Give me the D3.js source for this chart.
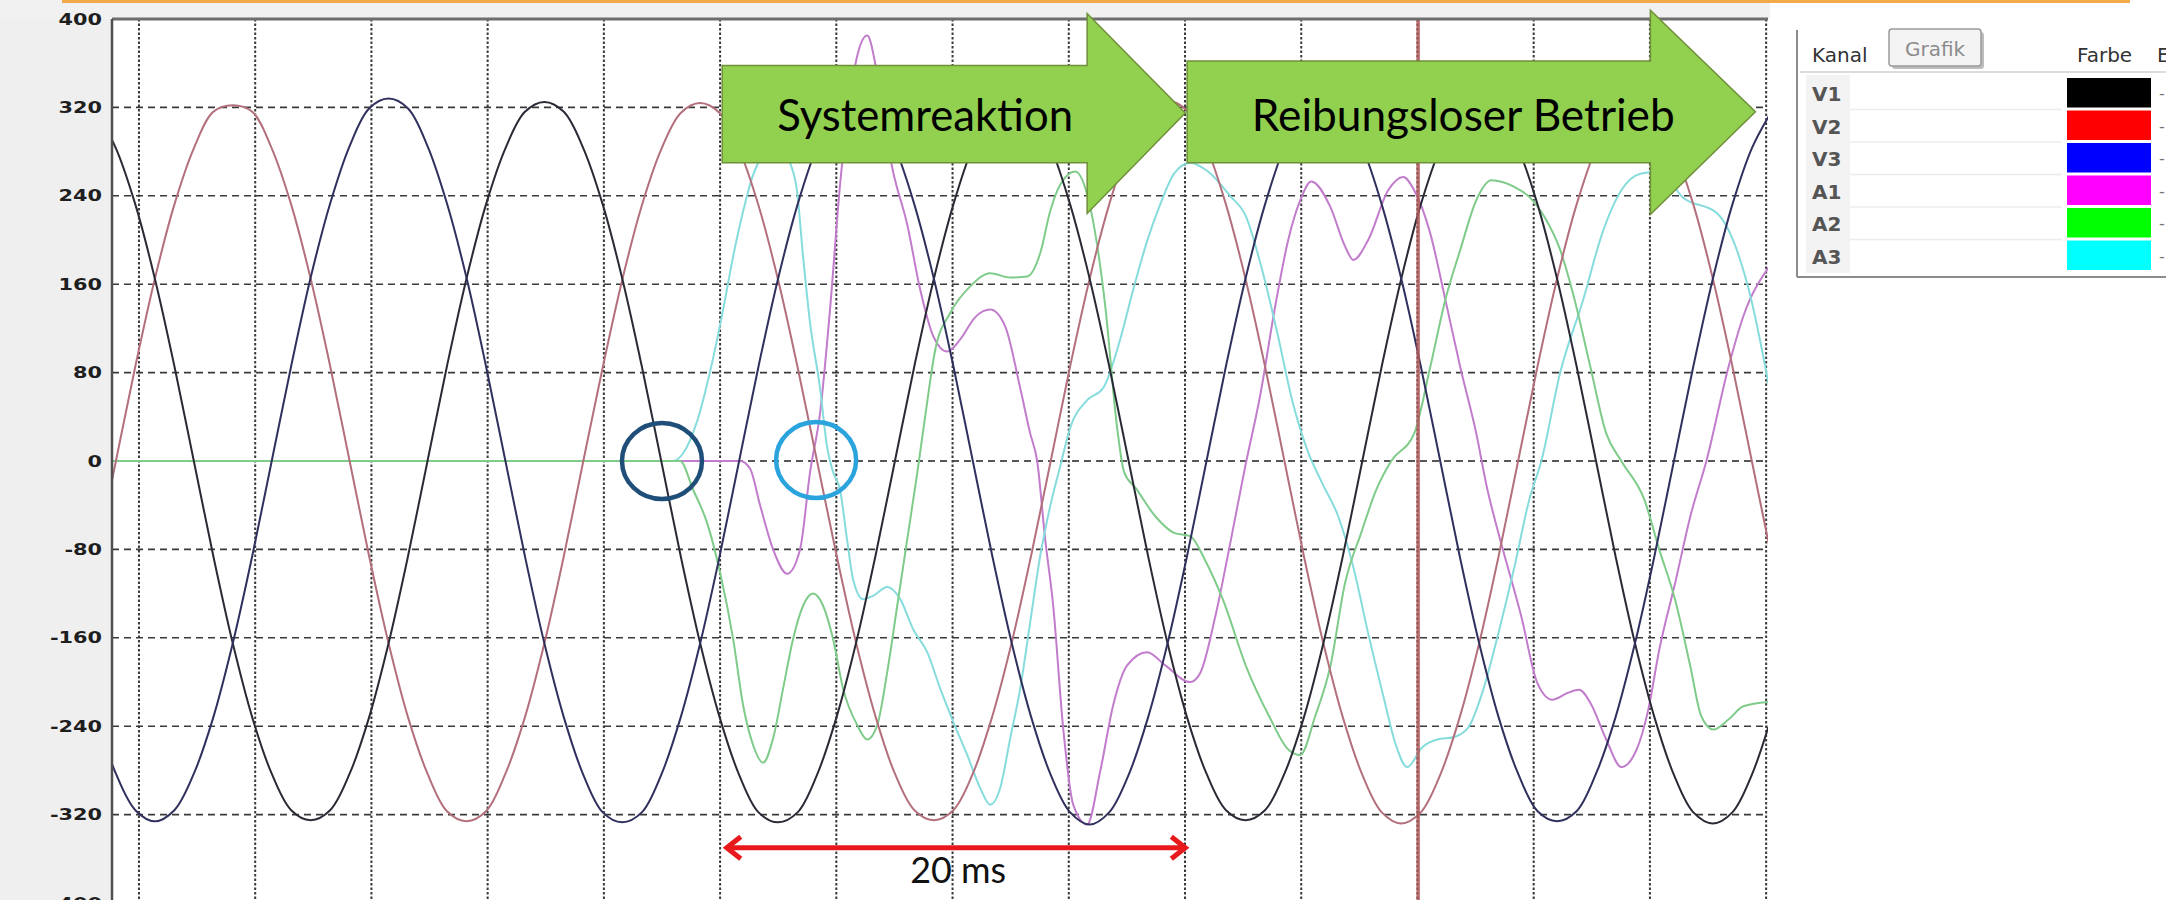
<!DOCTYPE html>
<html>
<head>
<meta charset="utf-8">
<script src="https://cdn.jsdelivr.net/npm/d3@7"></script>
<style>
  body { margin: 0; background: #fff; }
  svg { display: block; }
</style>
</head>
<body>
<svg id="chart" width="2166" height="900"></svg>
<script>
// y axis ticks (value units), vertical grid every 5 ms
const yTicks = [400, 320, 240, 160, 80, 0, -80, -160, -240, -320, -400];
const gridMs = [0, 5, 10, 15, 20, 25, 30, 35, 40, 45, 50, 55, 60, 65, 70];

// legend
const channels = ['V1', 'V2', 'V3', 'A1', 'A2', 'A3'];
const channelColors = ['#000000', '#ff0000', '#0000ff', '#ff00ff', '#00ff00', '#00ffff'];

// voltages, sampled every vStepMs starting at vStartMs
const vStartMs = -1.829;
const vStepMs = 0.8378;
const v1 = [316, 283, 232, 165, 86, 0, -86, -165, -232, -283, -316, -325, -316, -283, -232, -165, -86,
  0, 86, 165, 232, 283, 316, 325, 316, 283, 232, 165, 86, 0, -86, -165, -232, -284, -318, -327, -318, -284, -232, -165, -86,
  0, 86, 165, 232, 284, 317, 326, 317, 284, 232, 165, 86, 0, -86, -165, -232, -283, -316, -325, -316, -283, -232, -165, -86,
  0, 86, 165, 232, 283, 316, 324, 316, 283, 232, 165, 86, 0, -86, -165, -232, -284, -318, -328, -318, -284, -232];
const v2 = [-86,
  0, 86, 165, 232, 283, 316, 322, 316, 283, 232, 165, 86, 0, -86, -165, -232, -283, -317, -326, -317, -283, -232, -165, -86,
  0, 85, 164, 231, 282, 315, 324, 315, 282, 231, 164, 85, 0, -85, -164, -231, -283, -316, -325, -316, -283, -231, -164, -85,
  0, 86, 165, 232, 284, 317, 326, 317, 284, 232, 165, 86, 0, -86, -165, -232, -284, -318, -328, -318, -284, -232, -165, -86,
  0, 86, 165, 232, 283, 316, 323, 316, 283, 232, 165, 86, 0, -86];
const v3 = [-232, -283, -316, -326, -316, -283, -232, -165, -86,
  0, 86, 166, 233, 285, 319, 328, 319, 285, 233, 166, 86, 0, -86, -165, -232, -284, -318, -327, -318, -284, -232, -165, -86,
  0, 86, 165, 232, 284, 318, 326, 318, 284, 232, 165, 86, 0, -86, -165, -232, -284, -318, -329, -318, -284, -232, -165, -86,
  0, 86, 165, 232, 284, 317, 325, 317, 284, 232, 165, 86, 0, -86, -165, -232, -283, -317, -326, -317, -283, -232, -165, -86,
  0, 86, 165, 232, 283, 316];

// currents (time in ms, value)
const a1Ms = [-1.16, 25.86, 26.29, 26.72, 27.28, 27.88, 28.44, 28.87, 29.31, 29.74, 30.16, 30.59, 30.94, 31.33, 31.67, 32.01,
  32.44, 33.05, 33.61, 34.17, 34.77, 35.33, 35.97, 36.62, 37.26, 37.91, 38.34, 38.64, 38.98, 39.33, 39.76, 40.19, 40.79,
  41.35, 41.91, 42.51, 43.37, 44.15, 45.22, 45.65, 46.30, 46.94, 47.59, 48.24, 48.88, 49.44, 49.96, 50.43, 51.25, 51.89,
  52.24, 52.88, 53.74, 54.39, 54.86, 55.55, 56.20, 56.84, 57.53, 58.00, 58.48, 59.47, 60.16, 60.80, 61.45, 61.96, 62.44,
  63.12, 63.77, 64.41, 64.93, 65.40, 66.09, 66.74, 67.43, 68.38, 69.02, 70.10];
const a1 = [0, 0, -7, -40, -80, -102, -80, -10, 45, 140, 250, 330, 370, 385, 360, 310,
  262, 214, 155, 113, 99, 110, 130, 137, 122, 66, 25, 0, -70, -131, -242, -311, -329,
  -281, -221, -185, -173, -185, -200, -192, -141, -75, -5, 60, 140, 200, 236, 253, 230, 194,
  182, 200, 245, 257, 245, 206, 146, 85, 25, -25, -65, -141, -201, -216, -210, -207, -219,
  -252, -277, -262, -225, -171, -110, -50, 0, 85, 131, 175];

const a2Ms = [-1.16, 23.28, 23.84, 24.44, 25.00, 25.56, 25.99, 26.42, 26.85, 27.28, 27.71, 28.14, 28.57, 29.00, 29.43,
  29.86, 30.29, 30.90, 31.33, 31.76, 32.19, 32.62, 33.05, 33.48, 33.82, 34.25, 34.90, 35.76, 36.62, 37.48, 38.21, 38.77,
  39.20, 39.63, 40.28, 40.92, 41.57, 42.08, 42.38, 42.90, 43.72, 44.53, 45.22, 45.87, 46.64, 47.63, 48.62, 49.44, 49.96,
  50.60, 51.25, 51.89, 52.58, 53.23, 53.87, 54.86, 55.55, 56.20, 56.84, 57.53, 58.18, 59.17, 59.81, 60.46, 61.14, 61.76,
  62.44, 63.12, 63.77, 64.76, 65.40, 66.09, 66.74, 67.21, 67.73, 68.38, 69.02, 70.10];
const a2 = [0, 0, -26, -56, -101, -161, -221, -257, -273, -251, -206, -161, -131, -120, -131,
  -161, -206, -239, -252, -239, -191, -131, -71, -11, 40, 100, 134, 158, 170, 166, 167, 188,
  226, 250, 262, 230, 140, 30, -10, -25, -50, -65, -68, -90, -126, -186, -231, -261, -266,
  -231, -186, -110, -65, -26, 0, 25, 85, 146, 191, 236, 254, 248, 239, 221, 191, 146,
  85, 25, 0, -35, -80, -126, -186, -231, -243, -234, -222, -218];

const a3Ms = [-1.16, 22.98, 23.41, 24.01, 24.57, 25.13, 25.56, 25.99, 26.42, 26.94, 27.50, 28.01, 28.31, 28.57, 28.87,
  29.30, 29.60, 29.86, 30.16, 30.46, 30.72, 31.15, 31.58, 32.19, 32.75, 33.30, 33.91, 34.47, 35.03, 35.63, 36.19, 36.62,
  37.05, 37.48, 37.91, 38.34, 38.77, 39.20, 39.63, 40.06, 40.79, 41.48, 42.21, 42.77, 43.37, 43.93, 44.53, 45.22, 45.99,
  46.94, 47.63, 48.28, 48.97, 49.61, 50.26, 50.90, 51.59, 52.24, 52.88, 53.57, 54.04, 54.56, 55.21, 55.85, 56.54, 57.19,
  57.83, 58.48, 59.17, 59.81, 60.33, 61.14, 62.13, 62.95, 63.77, 64.59, 65.45, 66.39, 67.90, 69.36, 70.10];
const a3 = [0, 0, 7, 36, 81, 137, 185, 226, 259, 280, 288, 270, 244, 185, 125,
  66, 13, -10, -26, -71, -107, -125, -122, -114, -125, -152, -173, -206, -236, -266, -296, -311,
  -296, -251, -206, -146, -86, -41, -5, 30, 55, 66, 110, 155, 199, 232, 260, 270, 262,
  240, 221, 176, 116, 55, 10, -20, -50, -96, -156, -216, -255, -277, -259, -252, -250, -241,
  -207, -156, -96, -35, 0, 80, 146, 206, 245, 260, 262, 239, 224, 146, 70];

// annotations (ms / value units)
const cursorMs = 55.03;
const spanMs = [25.2, 45.1];
const spanValue = -350;
const spanLabel = '20 ms';
const spanLabelAt = [35.24, -382];
const marks = [
  { ms: 22.5, value: 0, color: '#1f4e79' },
  { ms: 29.13, value: 1, color: '#2ba4dd' }
];
const phases = [
  { label: 'Systemreaktion', from: 25.09, to: 40.79, tip: 45.01, shaft: [358, 270], head: [405, 224], tipValue: 315, text: [33.82, 299], textWidth: 296 },
  { label: 'Reibungsloser Betrieb', from: 45.09, to: 65.02, tip: 69.54, shaft: [362, 270], head: [408, 223], tipValue: 316, text: [56.97, 299], textWidth: 423 }
];

const svg = d3.select('#chart');
const plot = { left: 112, right: 1768, top: 19, bottom: 903 };

const x = d3.scaleLinear().domain([-1.16, 70.08]).range([plot.left, plot.right]);
const y = d3.scaleLinear().domain([-400, 400]).range([plot.bottom, plot.top]);

// page background
svg.append('rect').attr('width', 2166).attr('height', 900).attr('fill', '#fff');
svg.append('rect').attr('x', 0).attr('y', 0).attr('width', plot.left).attr('height', 900).attr('fill', '#efefef');
svg.append('rect').attr('x', 0).attr('y', 0).attr('width', plot.right + 2).attr('height', plot.top).attr('fill', '#f1f1f1');
svg.append('line').attr('x1', 62).attr('x2', 2130).attr('y1', 1.5).attr('y2', 1.5)
  .attr('stroke', '#f2aa4c').attr('stroke-width', 3);

svg.append('defs').append('clipPath').attr('id', 'plotClip')
  .append('rect').attr('x', plot.left).attr('y', plot.top).attr('width', plot.right - plot.left).attr('height', plot.bottom - plot.top);

// grid
const grid = svg.append('g');
grid.selectAll('line.h').data(yTicks.filter(d => Math.abs(d) < 400)).enter().append('line')
  .attr('x1', plot.left).attr('x2', plot.right)
  .attr('y1', d => y(d)).attr('y2', d => y(d))
  .attr('stroke', d => d === 0 ? '#202020' : '#3a3a3a').attr('stroke-width', 1.6)
  .attr('stroke-dasharray', '7 5');
grid.selectAll('line.v').data(gridMs).enter().append('line')
  .attr('x1', d => x(d)).attr('x2', d => x(d))
  .attr('y1', plot.top).attr('y2', 900)
  .attr('stroke', '#3a3a3a').attr('stroke-width', 2)
  .attr('stroke-dasharray', '2.5 2');

// traces
const traces = svg.append('g').attr('clip-path', 'url(#plotClip)');
const currentLine = d3.line().x(d => x(d[0])).y(d => y(d[1])).curve(d3.curveMonotoneX);
const voltLine = d3.line().x((d, i) => x(vStartMs + i * vStepMs)).y(d => y(d)).curve(d3.curveCatmullRom);

[[a1Ms, a1, '#c27ccc'], [a3Ms, a3, '#86dcdc'], [a2Ms, a2, '#7fcb8a']].forEach(([ms, vals, col]) => {
  traces.append('path').datum(ms.map((t, i) => [t, vals[i]]))
    .attr('d', currentLine).attr('fill', 'none').attr('stroke', col).attr('stroke-width', 2);
});
[[v2, '#b3707c'], [v1, '#2a2a36'], [v3, '#30305e']].forEach(([vals, col]) => {
  traces.append('path').datum(vals)
    .attr('d', voltLine).attr('fill', 'none').attr('stroke', col).attr('stroke-width', 2);
});

// cursor
svg.append('line').attr('x1', x(cursorMs)).attr('x2', x(cursorMs)).attr('y1', plot.top).attr('y2', 900)
  .attr('stroke', '#b05a5a').attr('stroke-width', 3.5).attr('opacity', 0.85);

// frame
svg.append('line').attr('x1', plot.left).attr('x2', plot.right).attr('y1', plot.top).attr('y2', plot.top)
  .attr('stroke', '#6e6e6e').attr('stroke-width', 3);
svg.append('line').attr('x1', plot.left).attr('x2', plot.left).attr('y1', plot.top).attr('y2', 900)
  .attr('stroke', '#505050').attr('stroke-width', 2.5);

// y axis labels (wide bold digits, plain hyphen)
const yAxis = svg.append('g').attr('transform', `translate(${plot.left},0)`)
  .call(d3.axisLeft(y).tickValues(yTicks).tickSize(0).tickPadding(10).tickFormat(d => String(d)));
yAxis.select('.domain').remove();
yAxis.selectAll('text')
  .attr('font-family', 'DejaVu Sans').attr('font-weight', 'bold').attr('font-size', 16).attr('fill', '#1e1e1e')
  .each(function () {
    const w = this.getComputedTextLength();
    d3.select(this).attr('textLength', w * 1.3).attr('lengthAdjust', 'spacingAndGlyphs');
  });

// highlight circles
svg.selectAll('ellipse.mark').data(marks).enter().append('ellipse')
  .attr('cx', d => x(d.ms)).attr('cy', d => y(d.value)).attr('rx', 40).attr('ry', 38)
  .attr('fill', 'none').attr('stroke', d => d.color).attr('stroke-width', 4.5);

// 20 ms span
const red = '#e8191c';
const sy = y(spanValue), sx0 = x(spanMs[0]), sx1 = x(spanMs[1]);
svg.append('line').attr('x1', sx0 + 2).attr('x2', sx1 - 2).attr('y1', sy).attr('y2', sy)
  .attr('stroke', red).attr('stroke-width', 5);
svg.append('path').attr('d', `M${sx0 + 16},${sy - 11}L${sx0 + 2},${sy}L${sx0 + 16},${sy + 11}`)
  .attr('fill', 'none').attr('stroke', red).attr('stroke-width', 5).attr('stroke-linejoin', 'miter');
svg.append('path').attr('d', `M${sx1 - 16},${sy - 11}L${sx1 - 2},${sy}L${sx1 - 16},${sy + 11}`)
  .attr('fill', 'none').attr('stroke', red).attr('stroke-width', 5).attr('stroke-linejoin', 'miter');

function fitText(sel, width) {
  const w = sel.node().getComputedTextLength();
  sel.attr('font-size', 40 * width / w);
}

const spanText = svg.append('text').attr('x', x(spanLabelAt[0])).attr('y', y(spanLabelAt[1]))
  .attr('text-anchor', 'middle').attr('font-family', 'Lato').attr('font-size', 40).attr('fill', '#111')
  .text(spanLabel);
fitText(spanText, 96);

// phase arrows
phases.forEach(p => {
  const pts = [
    [x(p.from), y(p.shaft[0])], [x(p.to), y(p.shaft[0])], [x(p.to), y(p.head[0])],
    [x(p.tip), y(p.tipValue)],
    [x(p.to), y(p.head[1])], [x(p.to), y(p.shaft[1])], [x(p.from), y(p.shaft[1])]
  ];
  svg.append('polygon').attr('points', pts.map(d => d.join(',')).join(' '))
    .attr('fill', '#92d050').attr('stroke', '#6f8f3a').attr('stroke-width', 1.5);
  const t = svg.append('text').attr('x', x(p.text[0])).attr('y', y(p.text[1]))
    .attr('text-anchor', 'middle').attr('font-family', 'Lato').attr('font-size', 40).attr('fill', '#000')
    .text(p.label);
  fitText(t, p.textWidth);
});

// channel table
const lg = svg.append('g').attr('font-family', 'DejaVu Sans');
lg.append('rect').attr('x', 1806).attr('y', 75).attr('width', 44).attr('height', 198).attr('fill', '#f3f3f3');
lg.append('line').attr('x1', 1800).attr('x2', 2166).attr('y1', 72).attr('y2', 72).attr('stroke', '#dcdcdc').attr('stroke-width', 2);
lg.append('line').attr('x1', 1797).attr('x2', 1797).attr('y1', 30).attr('y2', 277).attr('stroke', '#8c8c8c').attr('stroke-width', 2);
lg.append('line').attr('x1', 1797).attr('x2', 2166).attr('y1', 277).attr('y2', 277).attr('stroke', '#8c8c8c').attr('stroke-width', 2);
lg.append('text').attr('x', 1812).attr('y', 62).attr('font-size', 20).attr('fill', '#333').text('Kanal');
lg.append('rect').attr('x', 1892).attr('y', 32).attr('width', 92).attr('height', 37).attr('rx', 3).attr('fill', '#bdbdbd');
lg.append('rect').attr('x', 1889).attr('y', 29).attr('width', 92).attr('height', 37).attr('rx', 3)
  .attr('fill', '#f4f4f4').attr('stroke', '#9a9a9a').attr('stroke-width', 1.5);
lg.append('text').attr('x', 1935).attr('y', 56).attr('text-anchor', 'middle').attr('font-size', 20).attr('fill', '#8c8c8c').text('Grafik');
lg.append('text').attr('x', 2077).attr('y', 62).attr('font-size', 20).attr('fill', '#333').text('Farbe');
lg.append('text').attr('x', 2157).attr('y', 62).attr('font-size', 20).attr('fill', '#333').text('Einheit');

const rowY = d3.scaleBand().domain(channels).range([77, 272]);
lg.selectAll('line.row').data(channels.slice(0, 5)).enter().append('line')
  .attr('x1', 1850).attr('x2', 2062).attr('y1', d => rowY(d) + rowY.bandwidth()).attr('y2', d => rowY(d) + rowY.bandwidth())
  .attr('stroke', '#ececec').attr('stroke-width', 1.5);
lg.selectAll('text.row').data(channels).enter().append('text')
  .attr('x', 1812).attr('y', d => rowY(d) + rowY.bandwidth() / 2 + 8)
  .attr('font-size', 20).attr('font-weight', 'bold').attr('fill', '#555').text(d => d);
lg.selectAll('rect.sw').data(channels).enter().append('rect')
  .attr('x', 2067).attr('y', d => rowY(d) + 1).attr('width', 84).attr('height', rowY.bandwidth() - 3)
  .attr('fill', (d, i) => channelColors[i]);
lg.selectAll('text.tail').data(channels).enter().append('text')
  .attr('x', 2159).attr('y', d => rowY(d) + rowY.bandwidth() / 2 + 6)
  .attr('font-size', 16).attr('fill', '#777').text('-');
</script>
</body>
</html>
